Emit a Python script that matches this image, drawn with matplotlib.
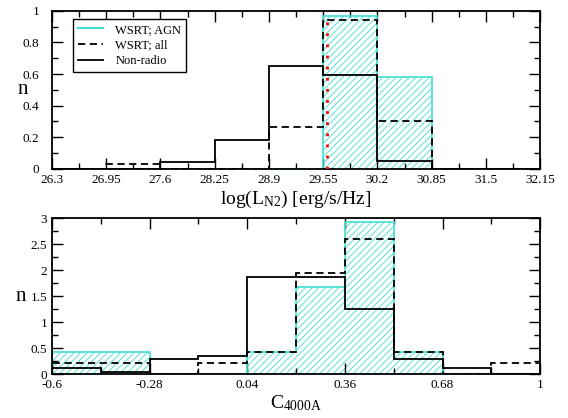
import numpy as np
import matplotlib
matplotlib.use('Agg')
import matplotlib.pyplot as plt
from matplotlib.lines import Line2D

plt.rcParams['font.family'] = ['Liberation Serif', 'DejaVu Serif']
plt.rcParams['mathtext.fontset'] = 'custom'
plt.rcParams['mathtext.rm'] = 'Liberation Serif'
plt.rcParams['mathtext.it'] = 'Liberation Serif:italic'
plt.rcParams['hatch.linewidth'] = 0.6

# --- top panel: log(L_N2) ---
lum_edges = [26.3, 26.95, 27.6, 28.25, 28.9, 29.55, 30.2, 30.85, 31.5, 32.15]
lum_ticks = ['26.3', '26.95', '27.6', '28.25', '28.9', '29.55', '30.2', '30.85', '31.5', '32.15']
lum_agn = [0, 0, 0, 0, 0, 0.968, 0.58, 0, 0]
lum_all = [0, 0.03, 0, 0, 0.268, 0.943, 0.30, 0, 0]
lum_nonradio = [0, 0, 0.042, 0.18, 0.654, 0.595, 0.05, 0, 0]
lum_cut = 29.6
lum_cut_top = 0.96

# --- bottom panel: C_4000A ---
c_edges = [-0.6, -0.44, -0.28, -0.12, 0.04, 0.2, 0.36, 0.52, 0.68, 0.84, 1.0]
c_ticks = [-0.6, -0.28, 0.04, 0.36, 0.68, 1.0]
c_ticklabels = ['-0.6', '-0.28', '0.04', '0.36', '0.68', '1']
c_agn = [0.42, 0.42, 0, 0, 0.42, 1.68, 2.92, 0.42, 0, 0]
c_all = [0.22, 0.22, 0, 0.21, 0.435, 1.95, 2.6, 0.435, 0, 0.22]
c_nonradio = [0.127, 0.05, 0.30, 0.35, 1.87, 1.87, 1.257, 0.294, 0.115, 0]

cyan = '#40e0d0'

fig = plt.figure(figsize=(5.68, 4.18), dpi=100)
ax1 = fig.add_axes([0.0915, 0.596, 0.8595, 0.378])
ax2 = fig.add_axes([0.0915, 0.105, 0.8595, 0.373])


def draw_hist(ax, edges, agn, allv, nonr):
    e = np.array(edges)
    # hatched AGN histogram, outline without inner dividers
    ax.stairs(agn, e, fill=True, hatch='/////', facecolor='none',
              edgecolor=cyan, linewidth=0, zorder=1)
    ax.stairs(agn, e, color=cyan, linewidth=1.2, zorder=2)
    ax.stairs(allv, e, color='black', linestyle=(0, (4, 2.5)), linewidth=1.3, zorder=3)
    ax.stairs(nonr, e, color='black', linewidth=1.3, zorder=4)


def style_axes(ax, ypad):
    for s in ax.spines.values():
        s.set_linewidth(1.3)
    ax.xaxis.set_tick_params(which='major', direction='in', top=True, bottom=True,
                             length=8, width=1, labelsize=9.5, pad=3.5)
    ax.xaxis.set_tick_params(which='minor', direction='in', top=True, bottom=True,
                             length=4, width=1, pad=3.5)
    ax.yaxis.set_tick_params(which='major', direction='in', left=True, right=True,
                             length=8, width=1, labelsize=9.5, pad=ypad)
    ax.yaxis.set_tick_params(which='minor', direction='in', left=True, right=True,
                             length=4, width=1, pad=ypad)


draw_hist(ax1, lum_edges, lum_agn, lum_all, lum_nonradio)
ax1.plot([lum_cut, lum_cut], [0, lum_cut_top], color='red', linestyle=(0, (1, 3)),
         linewidth=2, zorder=5)
ax1.set_xlim(lum_edges[0], lum_edges[-1])
ax1.set_ylim(0, 1)
ax1.set_xticks(lum_edges)
ax1.set_xticklabels(lum_ticks)
ax1.set_xticks(np.array(lum_edges[:-1]) + 0.325, minor=True)
ax1.set_yticks([0, 0.2, 0.4, 0.6, 0.8, 1])
ax1.set_yticklabels(['0', '0.2', '0.4', '0.6', '0.8', '1'])
ax1.set_yticks([0.1, 0.3, 0.5, 0.7, 0.9], minor=True)
style_axes(ax1, 9)
ax1.set_xlabel(r'log(L$_{\mathrm{N2}}$) [erg/s/Hz]', fontsize=14, labelpad=2)
ax1.set_ylabel('n', fontsize=15, rotation=0, labelpad=0, va='center')

handles = [Line2D([], [], color=cyan, lw=1.5),
           Line2D([], [], color='black', lw=1.3, linestyle=(0, (4, 2.5))),
           Line2D([], [], color='black', lw=1.3)]
leg = ax1.legend(handles, ['WSRT; AGN', 'WSRT; all', 'Non-radio'],
                 loc='upper left', bbox_to_anchor=(0.043, 0.95), borderaxespad=0,
                 fontsize=9, fancybox=False, framealpha=1, edgecolor='black',
                 handlelength=2.0, handletextpad=1.0, labelspacing=0.3,
                 borderpad=0.4)
leg.get_frame().set_linewidth(1)

draw_hist(ax2, c_edges, c_agn, c_all, c_nonradio)
ax2.set_xlim(c_edges[0], c_edges[-1])
ax2.set_ylim(0, 3)
ax2.set_xticks(c_ticks)
ax2.set_xticklabels(c_ticklabels)
ax2.set_xticks(np.array(c_ticks[:-1]) + 0.16, minor=True)
ax2.set_yticks([0, 0.5, 1, 1.5, 2, 2.5, 3])
ax2.set_yticklabels(['0', '0.5', '1', '1.5', '2', '2.5', '3'])
ax2.set_yticks([0.25, 0.75, 1.25, 1.75, 2.25, 2.75], minor=True)
style_axes(ax2, 3.5)
ax2.set_xlabel(r'C$_{\mathrm{4000A}}$', fontsize=14, labelpad=2)
ax2.set_ylabel('n', fontsize=15, rotation=0, labelpad=7, va='center')

fig.savefig('out.png', dpi=100)
